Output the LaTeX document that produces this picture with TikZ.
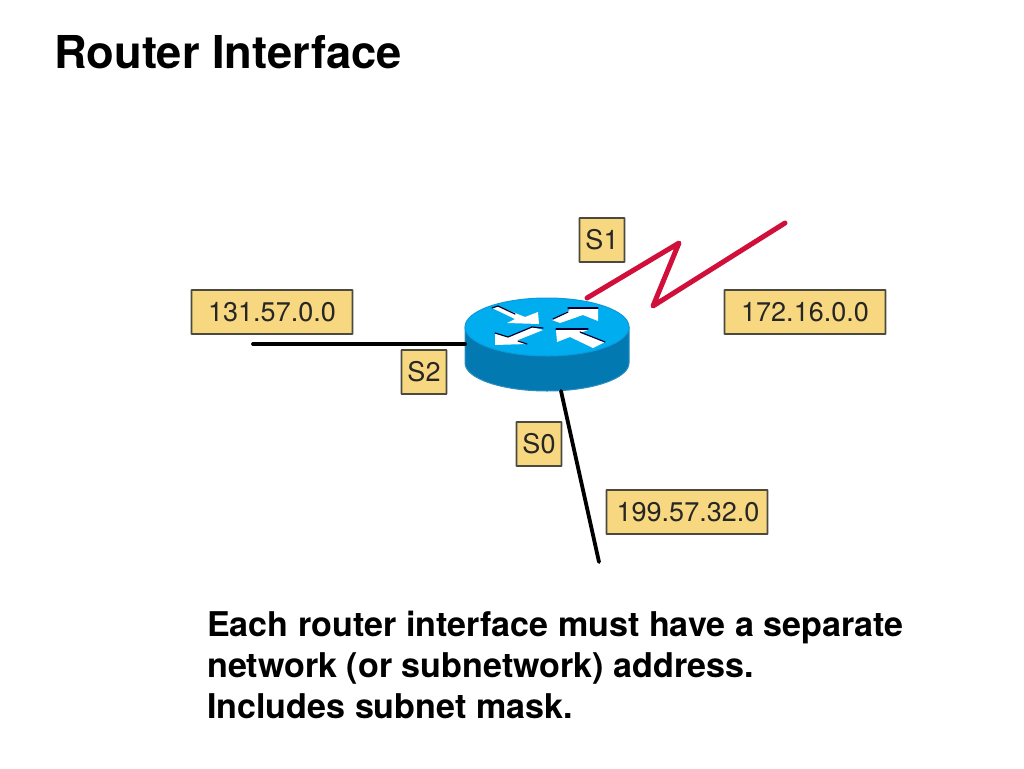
\documentclass[tikz,border=0pt]{standalone}
\usepackage{fontspec}
\setmainfont{TeX Gyre Heros}
\definecolor{tagfill}{HTML}{F7D77F}
\definecolor{tagline}{HTML}{4A4A40}
\definecolor{toptop}{HTML}{00ADEF}
\definecolor{sidec}{HTML}{0279B0}
\definecolor{redline}{HTML}{D0103A}
\tikzset{
  tag/.style={draw=tagline,line width=1.8pt,fill=tagfill,inner sep=0pt,anchor=center,text=black!85,font=\fontsize{27}{27}\selectfont,rounded corners=0.5pt,text depth=0pt,text height=19pt},
  wire/.style={line width=3.8pt,line cap=round,line join=miter},
  whitearrow/.style={fill=white,draw=none},
  shade/.style={draw=black!80!blue,line width=1.2pt,line cap=round,line join=round}
}
\begin{document}
\begin{tikzpicture}[x=1pt,y=-1pt]
\useasboundingbox (0,0) rectangle (1024,768);
\node[inner sep=0pt,anchor=base west,font=\fontsize{45.3}{45.3}\selectfont\bfseries] (title) at (54,68) {Router Interface};
% router
\coordinate (rc) at (547,327);
\fill[sidec,draw=cyan!40!sidec,line width=1pt] (465,327) -- (465,363) arc[start angle=180,end angle=0,x radius=82,y radius=28] -- (629,327) -- cycle;
\fill[toptop,draw=cyan!50!toptop,line width=1pt] (rc) ellipse[x radius=82,y radius=29];
\coordinate (rl) at (465,344);
\coordinate (rt) at (587,298);
\coordinate (rb) at (561,391);
% arrows
\fill[whitearrow] (492,308)--(498,306)--(525,317)--(538,312)--(539,324)--(507,323)--(515,319)--cycle;
\fill[whitearrow] (552,320)--(570,310)--(568,308)--(598,308)--(598,321)--(583,315)--(560,323)--cycle;
\fill[whitearrow] (495,333)--(495,345)--(527,344)--(518,340)--(543,330)--(532,327)--(508,337)--cycle;
\fill[whitearrow] (556,330)--(588,330)--(580,333)--(605,342)--(593,348)--(570,337)--(557,342)--cycle;
\draw[shade] (492,308)--(498,306)--(515,314);
\draw[shade] (553,319)--(568,312);
\draw[shade] (568,308)--(598,308);
\draw[shade] (495,333)--(508,337)--(532,327)--(543,328);
\draw[shade] (518,341)--(527,344);
\draw[shade] (556,329)--(588,329);
\draw[shade] (580,332)--(605,342);
% wires
\coordinate (w2) at (253,344);
\coordinate (w0) at (599,562);
\coordinate (z1) at (679,243);
\coordinate (z2) at (653,306);
\coordinate (z3) at (785,223);
\draw[wire,black] (w2) -- (rl);
\draw[wire,black] (rb) -- (w0);
\draw[wire,redline,line width=5pt,line join=round] (rt) -- (z1) -- (z2) -- (z3);
% labels
\node[tag,minimum width=161pt,minimum height=44pt] (n131) at (272,312) {131.57.0.0};
\node[tag,minimum width=161pt,minimum height=44pt] (n172) at (805,312) {172.16.0.0};
\node[tag,minimum width=161pt,minimum height=44pt] (n199) at (687,512) {\hspace{2pt}199.57.32.0};
\node[tag,minimum width=45pt,minimum height=44pt] (s1) at (602,240) {S1};
\node[tag,minimum width=45pt,minimum height=44pt] (s2) at (424,372) {S2};
\node[tag,minimum width=45pt,minimum height=44pt] (s0) at (539,444) {S0};
% text
\node[inner sep=0pt,anchor=north west,align=left,font=\fontsize{34.1}{41}\selectfont\bfseries] (body) at (207,611) {Each router interface must have a separate\\network (or subnetwork) address.\\Includes subnet mask.};
\end{tikzpicture}
\end{document}
